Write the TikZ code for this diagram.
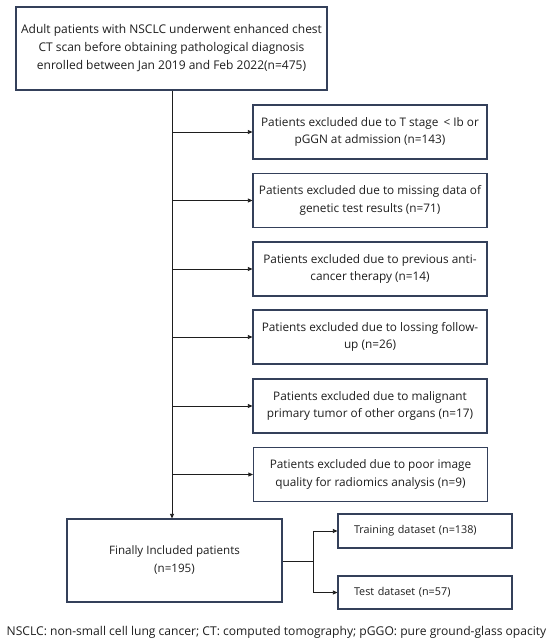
\documentclass[tikz,border=0pt]{standalone}
\usepackage{fontspec}
\setmainfont{Open Sans}
\usetikzlibrary{arrows.meta,calc}
\definecolor{boxc}{HTML}{34405A}
\definecolor{txt}{HTML}{1E1E1E}
\begin{document}
\begin{tikzpicture}[x=1pt,y=-1pt,
 box/.style={draw=boxc, line width=1.2pt, align=center, inner sep=0pt, text=txt, font=\fontsize{11.8}{17.5}\selectfont},
 exbox/.style={box, minimum width=234pt, minimum height=54pt},
 smallbox/.style={draw=boxc, line width=1.2pt, align=left, text width=142pt, inner xsep=16pt, inner ysep=0pt, minimum height=34pt, text=txt, font=\fontsize{10.8}{12}\selectfont},
 arr/.style={-{Triangle[length=4.5pt,width=4pt]}, line width=0.8pt, draw=txt},
 ln/.style={line width=0.8pt, draw=txt}]
\useasboundingbox[fill=white] (0,0) rectangle (550,644);
\node[box, font=\fontsize{12}{18}\selectfont, minimum width=311pt, minimum height=83pt] (top) at (171.5,48.5)
 {Adult patients with NSCLC underwent enhanced chest\\CT scan before obtaining pathological diagnosis\\enrolled between Jan 2019 and Feb 2022(n=475)};
\node[exbox] (e1) at (370,132) {Patients excluded due to T stage \,< Ib or\\pGGN at admission (n=143)};
\node[exbox] (e2) at (370,200.5) {Patients excluded due to missing data of\\genetic test results (n=71)};
\node[exbox] (e3) at (370,269) {Patients excluded due to previous anti-\\cancer therapy (n=14)};
\node[exbox] (e4) at (370,337) {Patients excluded due to lossing follow-\\up (n=26)};
\node[exbox] (e5) at (370,406) {Patients excluded due to malignant\\primary tumor of other organs (n=17)};
\node[exbox] (e6) at (370.5,474.5) {Patients excluded due to poor image\\quality for radiomics analysis (n=9)};
\node[box, font=\fontsize{11.6}{18}\selectfont, minimum width=215pt, minimum height=83pt] (fin) at (174.5,560.5)
 {Finally Included patients\\(n=195)};
\node[smallbox] (tr) at (425,531) {Training dataset (n=138)};
\node[smallbox, minimum height=33pt] (te) at (425,592.5) {Test dataset (n=57)};
\node[text=txt, font=\fontsize{12.1}{13}\selectfont, inner sep=0pt] (cap) at (276.5,632)
 {NSCLC: non-small cell lung cancer; CT: computed tomography; pGGO: pure ground-glass opacity};
% main line
\coordinate (m) at ($(top.south)+(0.5,0)$);
\draw[arr] (m) -- (m |- fin.north);
\foreach \e in {e1,e2,e3,e4,e5,e6}{
  \draw[arr] (m |- \e.west) -- (\e.west);
}
% branch
\coordinate (br) at (313,561);
\draw[ln] (fin.east |- br) -- (br);
\draw[arr] (br) |- (tr.west);
\draw[arr] (br) |- (te.west);
\end{tikzpicture}
\end{document}
